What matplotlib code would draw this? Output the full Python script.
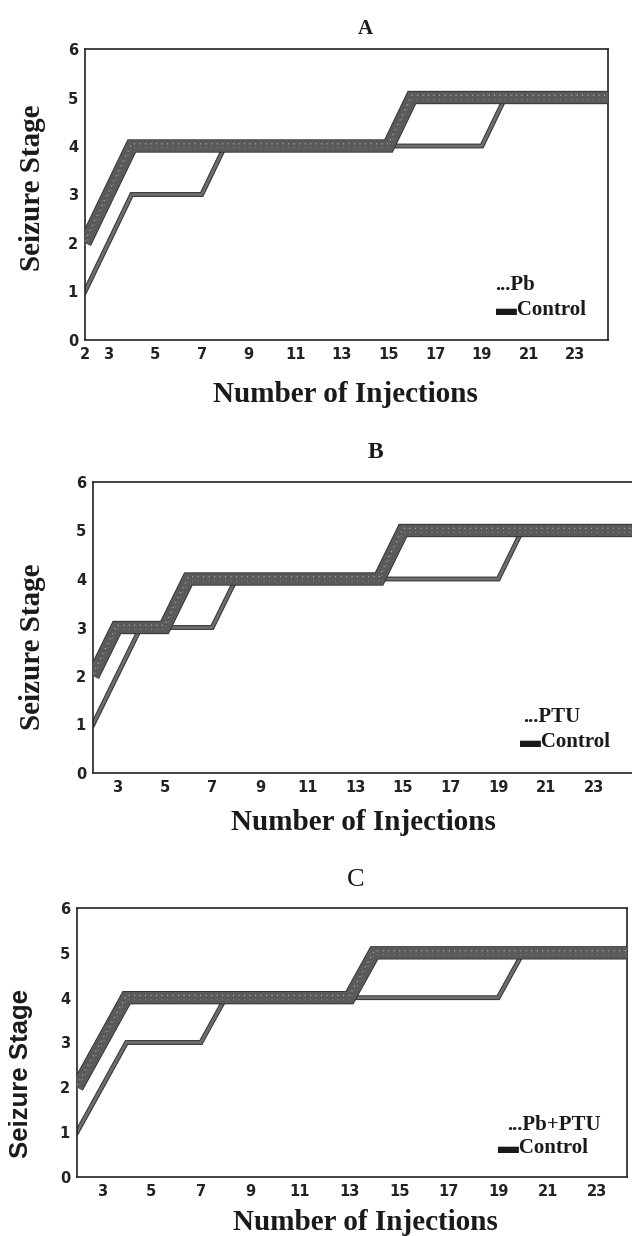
import matplotlib
matplotlib.use("Agg")
import matplotlib.pyplot as plt
import matplotlib.patheffects as pe
from matplotlib.transforms import offset_copy

# ---------------- data ----------------
injections = [2, 3, 4, 5, 6, 7, 8, 9, 10, 11, 12, 13, 14, 15, 16, 17, 18, 19, 20, 21, 22, 23, 24, 25]
control    = [1, 2, 3, 3, 3, 3, 4, 4, 4, 4, 4, 4, 4, 4, 4, 4, 4, 4, 5, 5, 5, 5, 5, 5]
pb         = [2, 3, 4, 4, 4, 4, 4, 4, 4, 4, 4, 4, 4, 4, 5, 5, 5, 5, 5, 5, 5, 5, 5, 5]
ptu        = [2, 3, 3, 3, 4, 4, 4, 4, 4, 4, 4, 4, 4, 5, 5, 5, 5, 5, 5, 5, 5, 5, 5, 5]
pb_ptu     = [2, 3, 4, 4, 4, 4, 4, 4, 4, 4, 4, 4, 5, 5, 5, 5, 5, 5, 5, 5, 5, 5, 5, 5]

xticks_a = [2, 3, 5, 7, 9, 11, 13, 15, 17, 19, 21, 23]
xticks_bc = [3, 5, 7, 9, 11, 13, 15, 17, 19, 21, 23]
yticks = [0, 1, 2, 3, 4, 5, 6]

panel_titles = ["A", "B", "C"]
treat_labels = ["...Pb", "...PTU", "...Pb+PTU"]
control_label = "\u25acControl"
xlabel = "Number of Injections"
ylabel = "Seizure Stage"

W, H = 632, 1236
fig = plt.figure(figsize=(W / 100, H / 100), dpi=100)


def px(x, y):
    return x / W, 1 - y / H


def axes_px(left, right, top, bottom):
    return [left / W, 1 - bottom / H, (right - left) / W, (bottom - top) / H]


SERIF = ["Liberation Serif", "DejaVu Serif"]
SANS = ["DejaVu Sans"]

panels = [
    dict(rect=axes_px(85, 608, 49, 340), xlim=(2, 24.4), ticks=xticks_a, treat=pb,
         title_xy=(365, 29), title_size=15, title_weight="bold",
         xl_xy=(345, 395), yl_xy=(33, 188), yl_family=SERIF, yl_size=21,
         leg1=(0.784, 0.189), leg2=(0.785, 0.103)),
    dict(rect=axes_px(93, 633, 482, 773), xlim=(2, 24.65), ticks=xticks_bc, treat=ptu,
         title_xy=(375, 453), title_size=17, title_weight="bold",
         xl_xy=(363, 822), yl_xy=(33, 647), yl_family=SERIF, yl_size=21,
         leg1=(0.797, 0.192), leg2=(0.790, 0.107)),
    dict(rect=axes_px(77, 627, 908, 1177), xlim=(2, 24.2), ticks=xticks_bc, treat=pb_ptu,
         title_xy=(356, 880), title_size=19, title_weight="normal",
         xl_xy=(365, 1223), yl_xy=(21, 1073), yl_family=["Liberation Sans", "DejaVu Sans"], yl_size=18.5,
         leg1=(0.782, 0.193), leg2=(0.766, 0.108)),
]

for i, p in enumerate(panels):
    ax = fig.add_axes(p["rect"])
    ax.set_xlim(*p["xlim"])
    ax.set_ylim(0, 6)

    # control: thin dark line
    ax.plot(injections, control, color="#6e6e6e", lw=2.0, solid_joinstyle="miter",
            path_effects=[pe.Stroke(linewidth=3.5, foreground="#353535"), pe.Normal()],
            zorder=2)
    # treatment: thick dotted band
    ax.plot(injections, p["treat"], color="#5a5a5a", lw=8.4, solid_joinstyle="miter",
            solid_capstyle="butt",
            path_effects=[pe.Stroke(linewidth=9.6, foreground="#2c2c2c"), pe.Normal()],
            zorder=3)
    for dy, alpha in [(1.6, 0.7), (-1.4, 0.3)]:
        tr = offset_copy(ax.transData, fig=fig, x=0, y=dy, units="points")
        ax.plot(injections, p["treat"], color="#dedede", lw=0.9, alpha=alpha,
                linestyle=(0, (0.8, 3.6)), transform=tr, zorder=4)

    for s in ax.spines.values():
        s.set_linewidth(1.2)
        s.set_color("#222222")

    ax.set_xticks(p["ticks"])
    ax.set_xticklabels([str(t) for t in p["ticks"]])
    ax.set_yticks(yticks)
    ax.set_yticklabels([str(t) for t in yticks])
    ax.tick_params(length=0)
    ax.tick_params(axis="x", pad=5)
    ax.tick_params(axis="y", pad=5)
    for lab in ax.get_xticklabels() + ax.get_yticklabels():
        lab.set_fontfamily(SANS)
        lab.set_fontweight("bold")
        lab.set_fontsize(10.5)
        lab.set_color("#222222")

    # legend texts
    ax.text(p["leg1"][0], p["leg1"][1], treat_labels[i], transform=ax.transAxes,
            ha="left", va="center", fontsize=15, fontweight="bold", family=SERIF,
            color="#1a1a1a")
    ax.text(p["leg2"][0], p["leg2"][1], control_label, transform=ax.transAxes,
            ha="left", va="center", fontsize=15, fontweight="bold",
            family=["Liberation Serif", "DejaVu Sans"], color="#1a1a1a")

    # title, axis labels
    tx, ty = px(*p["title_xy"])
    fig.text(tx, ty, panel_titles[i], ha="center", va="center", family=SERIF,
             fontsize=p["title_size"], fontweight=p["title_weight"], color="#1a1a1a")
    xx, xy = px(*p["xl_xy"])
    fig.text(xx, xy, xlabel, ha="center", va="center", family=SERIF, fontsize=21,
             fontweight="bold", color="#1a1a1a")
    yx, yy = px(*p["yl_xy"])
    fig.text(yx, yy, ylabel, ha="center", va="center", rotation=90, family=p["yl_family"],
             fontsize=p["yl_size"], fontweight="bold", color="#1a1a1a")

fig.savefig("out.png", dpi=100)
